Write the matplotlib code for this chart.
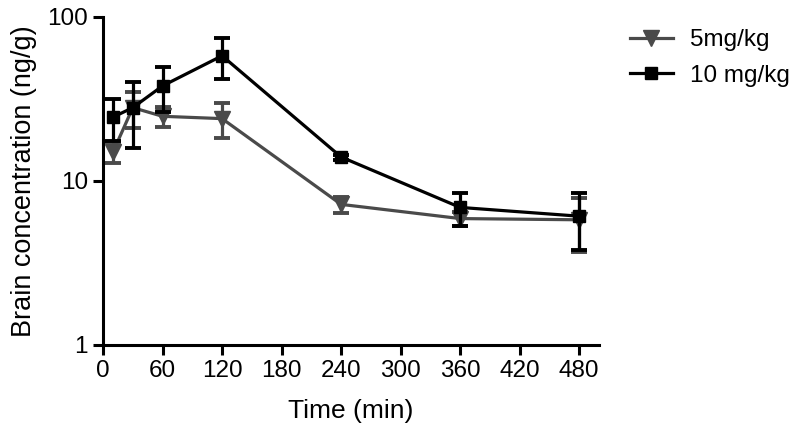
import numpy as np
import matplotlib
matplotlib.use("Agg")
import matplotlib.pyplot as plt
from matplotlib.ticker import FixedLocator, NullLocator

plt.rcParams["font.family"] = ["Liberation Sans", "DejaVu Sans"]

time = [10, 30, 60, 120, 240, 360, 480]

low_dose = [15.0, 28.0, 24.8, 24.0, 7.2, 5.9, 5.8]
low_err = [2.2, 7.0, 3.5, 5.7, 0.8, 0.6, 2.1]

high_dose = [24.5, 28.0, 38.0, 58.0, 14.0, 6.9, 6.1]
high_err = [7.0, 12.0, 11.5, 16.0, 0.5, 1.6, 2.3]

labels = ["5mg/kg", "10 mg/kg"]
xticks = [0, 60, 120, 180, 240, 300, 360, 420, 480]

fig = plt.figure(figsize=(7.95, 4.3), dpi=100)
ax = fig.add_axes([0.1296, 0.1977, 0.6239, 0.7628])

gray = "#4a4a4a"
ax.errorbar(time, low_dose, yerr=low_err, color=gray, marker="v", markersize=12,
            linewidth=2.3, elinewidth=2.3, capsize=6, capthick=2.8,
            label=labels[0], zorder=2, clip_on=False)
ax.errorbar(time, high_dose, yerr=high_err, color="black", marker="s", markersize=9,
            linewidth=2.3, elinewidth=2.3, capsize=6, capthick=2.8,
            label=labels[1], zorder=3, clip_on=False)

ax.set_yscale("log")
ax.set_ylim(1, 100)
ax.set_xlim(0, 500)
ax.yaxis.set_major_locator(FixedLocator([1, 10, 100]))
ax.yaxis.set_minor_locator(NullLocator())
ax.set_yticklabels(["1", "10", "100"])
ax.set_xticks(xticks)

for s in ["top", "right"]:
    ax.spines[s].set_visible(False)
for s in ["left", "bottom"]:
    ax.spines[s].set_linewidth(2.2)
ax.tick_params(width=2.2, length=7, labelsize=17.5, direction="out", pad=4)

ax.set_xlabel("Time (min)", fontsize=19, labelpad=12)
ax.set_ylabel("Brain concentration (ng/g)", fontsize=19.5, labelpad=7)

handles, lbls = ax.get_legend_handles_labels()
hs = [h[0] for h in handles]
fig.legend(hs, lbls, loc="upper left", bbox_to_anchor=(0.765, 0.983), frameon=False,
           fontsize=17.5, handlelength=1.75, handletextpad=0.7, labelspacing=0.55)

fig.savefig("out.png", dpi=100)
